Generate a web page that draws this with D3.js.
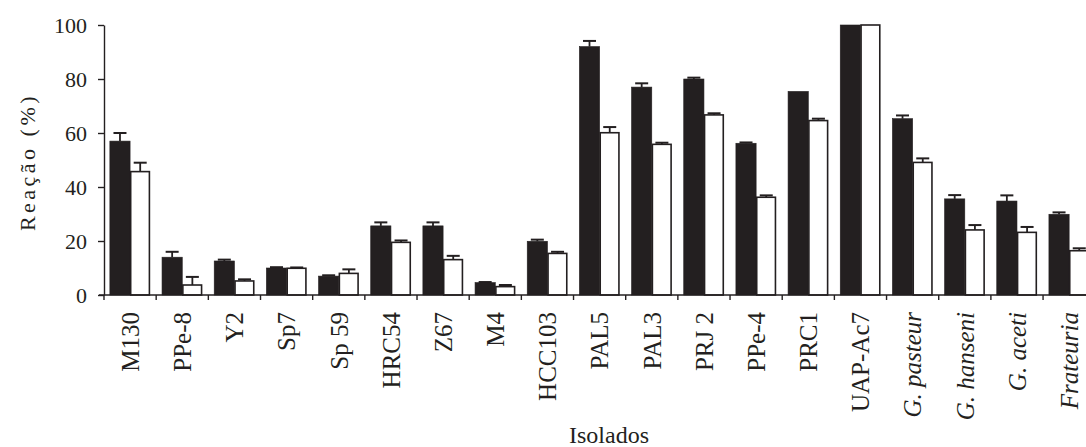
<!DOCTYPE html>
<html>
<head>
<meta charset="utf-8">
<script src="https://cdn.jsdelivr.net/npm/d3@7"></script>
<style>
  html, body { margin: 0; padding: 0; background: #fff; overflow: hidden; }
  svg { display: block; }
  svg text { font-family: "Liberation Serif", "Times New Roman", serif; }
</style>
</head>
<body>
<svg id="chart" width="1086" height="447"></svg>
<script>
// Isolates on the x axis (italic ones are reference species)
const isolates = ["M130", "PPe-8", "Y2", "Sp7", "Sp 59", "HRC54", "Z67", "M4", "HCC103",
  "PAL5", "PAL3", "PRJ 2", "PPe-4", "PRC1", "UAP-Ac7", "G. pasteur", "G. hanseni", "G. aceti", "Frateuria"];
const italicLabels = ["G. pasteur", "G. hanseni", "G. aceti", "Frateuria"];

// Reaction (%) – dark series and its upper error
const darkValues = [57, 14, 12.6, 10, 7, 25.6, 25.6, 4.6, 19.9, 92, 77, 80, 56.2, 75.4, 100, 65.3, 35.6, 34.8, 29.9];
const darkErrors = [3, 2, 0.5, 0.3, 0.3, 1.3, 1.3, 0.2, 0.6, 2.1, 1.4, 0.5, 0.3, 0, 0, 1.2, 1.4, 2.1, 0.7];

// Reaction (%) – open series and its upper error
const openValues = [45.7, 3.7, 5.2, 9.9, 8, 19.5, 13.1, 3.1, 15.4, 60.1, 55.8, 66.7, 36.2, 64.6, 100, 49.1, 24.1, 23.2, 16.4];
const openErrors = [3.3, 3, 0.6, 0.3, 1.5, 0.7, 1.4, 0.6, 0.6, 2.1, 0.6, 0.6, 0.7, 0.7, 0, 1.5, 1.8, 2.0, 0.9];

const yTicks = [0, 20, 40, 60, 80, 100];

const ink = "#231f20";
const serif = "Liberation Serif, Times New Roman, serif";
const svg = d3.select("#chart");

const x0 = 104, bandW = 52.17;
const x = d3.scaleBand().domain(isolates).range([x0, x0 + bandW * isolates.length]).paddingInner(0).paddingOuter(0);
const inner = d3.scaleBand().domain(["dark", "open"]).range([0, x.bandwidth()]).paddingInner(0).paddingOuter(0.29);
const y = d3.scaleLinear().domain([0, 100]).range([295, 25]);

// Bars
const rows = isolates.map((name, i) => ({
  name,
  bars: [
    { key: "dark", v: darkValues[i], e: darkErrors[i] },
    { key: "open", v: openValues[i], e: openErrors[i] }
  ]
}));

const groups = svg.append("g").selectAll("g").data(rows).join("g")
  .attr("transform", d => `translate(${x(d.name)},0)`);

// Error bars (upper only), drawn under the bars
groups.selectAll("g.err").data(d => d.bars.filter(b => b.e > 0)).join("g").attr("class", "err")
  .each(function (b) {
    const g = d3.select(this);
    const cx = inner(b.key) + inner.bandwidth() / 2;
    g.append("line").attr("x1", cx).attr("x2", cx).attr("y1", y(b.v)).attr("y2", y(b.v + b.e))
      .attr("stroke", ink).attr("stroke-width", 1.8);
    g.append("line").attr("x1", cx - 6.5).attr("x2", cx + 6.5).attr("y1", y(b.v + b.e)).attr("y2", y(b.v + b.e))
      .attr("stroke", ink).attr("stroke-width", 2);
  });

groups.selectAll("rect").data(d => d.bars).join("rect")
  .attr("x", b => inner(b.key) + (b.key === "open" ? 0.6 : 0))
  .attr("width", b => inner.bandwidth() - (b.key === "open" ? 1.5 : 0))
  .attr("y", b => y(b.v))
  .attr("height", b => y(0) - y(b.v))
  .attr("fill", b => b.key === "dark" ? ink : "#fff")
  .attr("stroke", ink)
  .attr("stroke-width", b => b.key === "dark" ? 0.6 : 1.6);

// Y axis
const yAxis = svg.append("g").attr("transform", `translate(${x0},0)`)
  .call(d3.axisLeft(y).tickValues(yTicks).tickSize(6).tickPadding(11).tickSizeOuter(0));
yAxis.attr("font-family", serif).attr("font-size", 22);
yAxis.select(".domain").attr("stroke", ink).attr("stroke-width", 1.4);
yAxis.selectAll(".tick line").attr("stroke", ink).attr("stroke-width", 1.4);
yAxis.selectAll(".tick text").attr("fill", ink).attr("font-family", serif).attr("font-size", 22);

// X axis with ticks at category boundaries
const xAxisG = svg.append("g").attr("font-family", serif);
xAxisG.append("line").attr("x1", x0 - 5).attr("x2", x0 + bandW * isolates.length)
  .attr("y1", y(0)).attr("y2", y(0)).attr("stroke", ink).attr("stroke-width", 1.4);
xAxisG.selectAll("line.tk").data(isolates).join("line").attr("class", "tk")
  .attr("x1", d => x(d)).attr("x2", d => x(d))
  .attr("y1", y(0)).attr("y2", y(0) + 5)
  .attr("stroke", ink).attr("stroke-width", 1.4);

xAxisG.selectAll("text").data(isolates).join("text")
  .attr("transform", d => `translate(${x(d) + x.bandwidth() / 2},312) rotate(-90)`)
  .attr("text-anchor", "end")
  .attr("dy", "0.35em")
  .attr("fill", ink)
  .attr("font-family", serif)
  .attr("font-size", 25)
  .attr("font-style", d => italicLabels.includes(d) ? "italic" : "normal")
  .text(d => d);

// Axis titles
svg.append("text")
  .attr("x", 609).attr("y", 443)
  .attr("text-anchor", "middle")
  .attr("fill", ink)
  .attr("font-family", serif)
  .attr("font-size", 24)
  .text("Isolados");

svg.append("text")
  .attr("transform", "translate(35,162) rotate(-90)")
  .attr("text-anchor", "middle")
  .attr("fill", ink)
  .attr("font-family", serif)
  .attr("font-size", 22)
  .attr("letter-spacing", 3.5)
  .text("Reação (%)");
</script>
</body>
</html>
